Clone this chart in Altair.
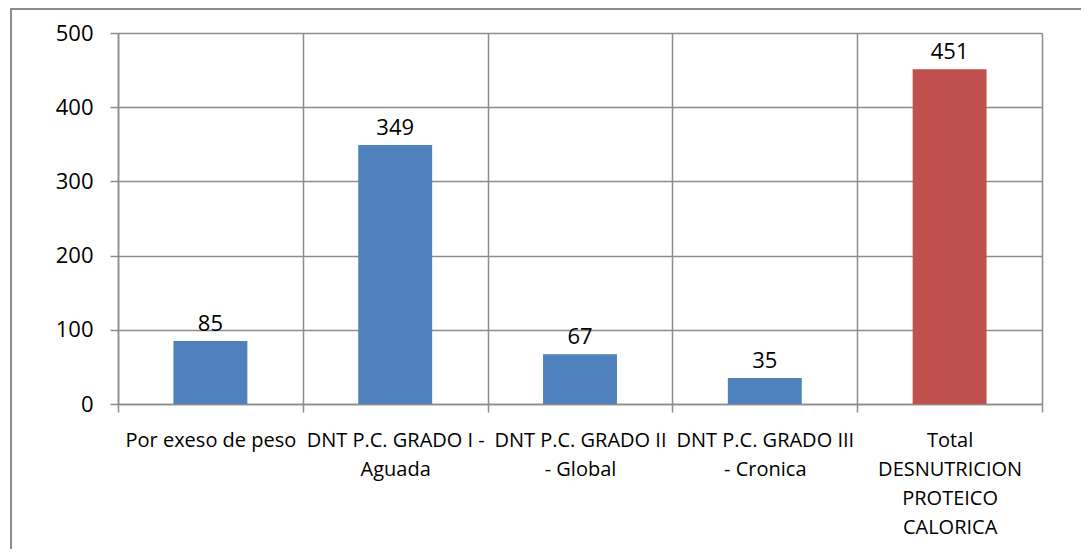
import altair as alt
import pandas as pd

categories = [
    "Por exeso de peso",
    "DNT P.C. GRADO I -|Aguada",
    "DNT P.C. GRADO II|- Global",
    "DNT P.C. GRADO III|- Cronica",
    "Total|DESNUTRICION|PROTEICO|CALORICA",
]
values = [85, 349, 67, 35, 451]
colors = ["#4F81BD", "#4F81BD", "#4F81BD", "#4F81BD", "#C0504D"]

df = pd.DataFrame({"cat": categories, "val": values, "color": colors})

FONT = "Open Sans"
GRID = "#8c8c8c"
W, H = 924, 371

base = alt.Chart(df).encode(
    x=alt.X(
        "cat:N",
        sort=categories,
        scale=alt.Scale(paddingInner=0, paddingOuter=0),
        axis=alt.Axis(
            title=None,
            labelAngle=0,
            labelExpr="split(datum.label, '|')",
            labelFont=FONT,
            labelFontSize=20,
            labelColor="#000000",
            labelLineHeight=29,
            labelPadding=18,
            labelBaseline="top",
            tickBand="extent",
            tickSize=8,
            tickColor=GRID,
            tickWidth=1.5,
            domainColor=GRID,
            domainWidth=1.5,
            grid=True,
            gridColor=GRID,
            gridWidth=1.5,
            labelLimit=300,
        ),
    ),
    y=alt.Y(
        "val:Q",
        scale=alt.Scale(domain=[0, 500], nice=False),
        axis=alt.Axis(
            title=None,
            values=[0, 100, 200, 300, 400, 500],
            labelFont=FONT,
            labelFontSize=22,
            labelColor="#000000",
            labelPadding=17,
            tickSize=8,
            tickColor=GRID,
            tickWidth=1.5,
            domainColor=GRID,
            domainWidth=1.5,
            grid=True,
            gridColor=GRID,
            gridWidth=1.5,
        ),
    ),
)

bars = base.mark_bar(width={"band": 0.4}).encode(
    color=alt.Color("color:N", scale=None)
)

text = base.mark_text(baseline="bottom", dy=-5, font=FONT, fontSize=22, color="#000000").encode(
    text="val:Q"
)

frame_left = alt.Chart(df).mark_rule(color=GRID, strokeWidth=2, clip=False).encode(
    x=alt.value(-107), y=alt.value(-25), y2=alt.value(H + 150)
)
frame_top = alt.Chart(df).mark_rule(color=GRID, strokeWidth=2, clip=False).encode(
    x=alt.value(-107), x2=alt.value(W + 45), y=alt.value(-24)
)

chart = (
    alt.layer(bars, text, frame_left, frame_top)
    .properties(
        width=W,
        height=H,
        autosize=alt.AutoSizeParams(type="none"),
        padding={"left": 110, "top": 25, "right": 39, "bottom": 145},
    )
    .configure_view(stroke=GRID, strokeWidth=1.5)
    .configure(background="white")
)

chart.save("out.html", embed_options={"renderer": "svg", "actions": False})
